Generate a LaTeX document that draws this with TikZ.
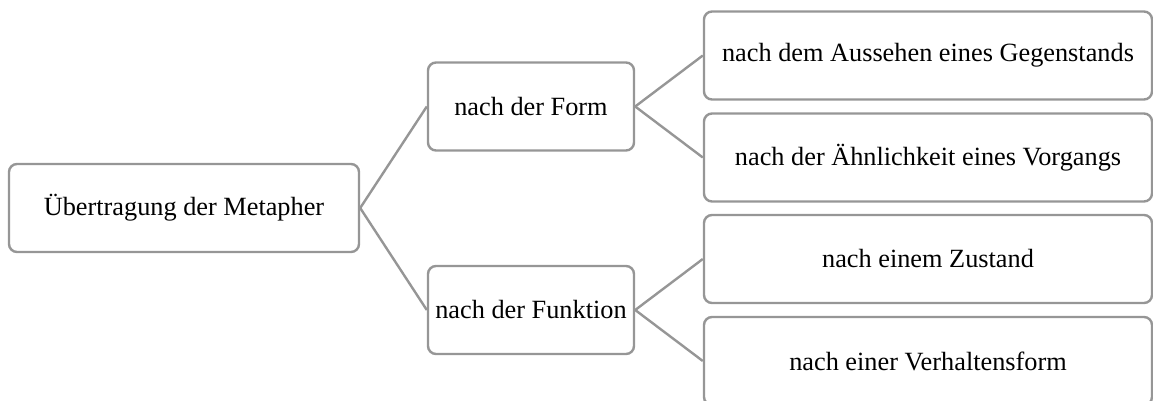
\documentclass[tikz,border=0pt]{standalone}
\usepackage{fontspec}
\setmainfont{Liberation Serif}
\definecolor{framegray}{RGB}{150,150,150}
\begin{document}
\begin{tikzpicture}[x=1pt,y=-1pt,
  box/.style={draw=framegray, line width=2.4pt, rounded corners=8pt, fill=white,
    minimum height=88pt, inner sep=0pt, align=center,
    font=\fontsize{26.3}{30}\selectfont},
  rootbox/.style={box, minimum width=350pt},
  midbox/.style={box, minimum width=206pt},
  leafbox/.style={box, minimum width=448pt},
  link/.style={draw=framegray, line width=2.4pt}]
\useasboundingbox (0,0) rectangle (1153,401);
\clip (0,0) rectangle (1153,401);
% tree: root, two branches, four leaves
\node[rootbox] (root) at (184,208) {Übertragung der Metapher};
\node[midbox] (form) at (531,106.5) {nach der Form};
\node[midbox] (funk) at (531,310) {nach der Funktion};
\node[leafbox] (l1) at (928,55.5) {nach dem Aussehen eines Gegenstands};
\node[leafbox] (l2) at (928,157.5) {nach der Ähnlichkeit eines Vorgangs};
\node[leafbox] (l3) at (928,259) {nach einem Zustand};
\node[leafbox] (l4) at (928,361) {nach einer Verhaltensform};
% connectors
\draw[link] (root.east) -- (form.west);
\draw[link] (root.east) -- (funk.west);
\draw[link] (form.east) -- (l1.west);
\draw[link] (form.east) -- (l2.west);
\draw[link] (funk.east) -- (l3.west);
\draw[link] (funk.east) -- (l4.west);
\end{tikzpicture}
\end{document}
